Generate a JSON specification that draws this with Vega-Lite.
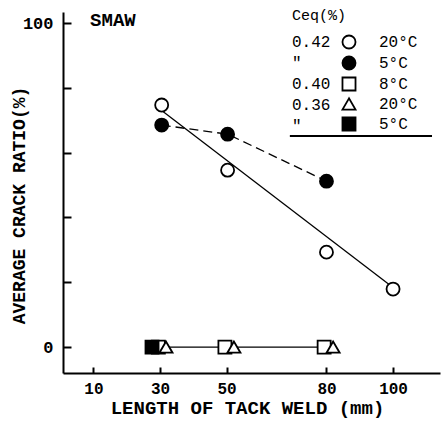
{
  "$schema": "https://vega.github.io/schema/vega-lite/v6.json",
  "width": 377,
  "height": 361,
  "autosize": "none",
  "padding": {"left": 63, "top": 12, "right": 4, "bottom": 48},
  "background": "white",
  "config": {"view": {"stroke": null}, "font": "Liberation Mono"},
  "datasets": {
    "points": [
      {"length": 30.5, "ratio": 74.7, "series": "0.42|20°C"},
      {"length": 50.3, "ratio": 54.6, "series": "0.42|20°C"},
      {"length": 80, "ratio": 29.3, "series": "0.42|20°C"},
      {"length": 100, "ratio": 17.9, "series": "0.42|20°C"},
      {"length": 30.5, "ratio": 68.5, "series": "0.42|5°C"},
      {"length": 50.3, "ratio": 65.7, "series": "0.42|5°C"},
      {"length": 80, "ratio": 51.2, "series": "0.42|5°C"},
      {"length": 29.5, "ratio": 0, "series": "0.40|8°C"},
      {"length": 49.5, "ratio": 0, "series": "0.40|8°C"},
      {"length": 79.3, "ratio": 0, "series": "0.40|8°C"},
      {"length": 27.6, "ratio": 0, "series": "0.36|5°C"},
      {"length": 31.8, "ratio": 0, "series": "0.36|20°C"},
      {"length": 52.2, "ratio": 0, "series": "0.36|20°C"},
      {"length": 82, "ratio": 0, "series": "0.36|20°C"}
    ],
    "fit": [
      {"length": 30, "ratio": 73.4},
      {"length": 100, "ratio": 18.4}
    ]
  },
  "layer": [
    {
      "data": {"name": "fit"},
      "mark": {"type": "line", "color": "black", "strokeWidth": 1.3},
      "encoding": {
        "x": {
          "field": "length", "type": "quantitative",
          "scale": {"domain": [0.86, 114.1], "nice": false, "zero": false},
          "axis": {
            "values": [10, 30, 50, 80, 100],
            "title": "LENGTH OF TACK WELD (mm)",
            "grid": false,
            "domainColor": "black", "domainWidth": 2,
            "tickColor": "black", "tickWidth": 2, "tickSize": -6,
            "labelPadding": 13, "labelFlush": false, "labelOverlap": false,
            "labelFont": "Liberation Mono", "labelFontSize": 16, "labelFontWeight": "bold", "labelColor": "black",
            "titleFont": "Liberation Mono", "titleFontSize": 19, "titleFontWeight": "bold", "titleColor": "black",
            "titleBaseline": "alphabetic", "titleX": 184, "titleY": 40
          }
        },
        "y": {
          "field": "ratio", "type": "quantitative",
          "scale": {"domain": [-8.0, 103.4], "nice": false, "zero": false},
          "axis": {
            "values": [0, 10, 20, 30, 40, 50, 60, 70, 80, 90, 100],
            "labelExpr": "datum.value % 50 === 0 ? datum.label : ''",
            "title": "AVERAGE CRACK RATIO(%)",
            "grid": false,
            "domainColor": "black", "domainWidth": 2,
            "tickColor": "black", "tickWidth": 2, "tickSize": -8,
            "labelPadding": 18, "labelAlign": "right", "labelOverlap": false,
            "labelFont": "Liberation Mono", "labelFontSize": 17, "labelFontWeight": "bold", "labelColor": "black",
            "titleFont": "Liberation Mono", "titleFontSize": 18, "titleFontWeight": "bold", "titleColor": "black",
            "titleBaseline": "alphabetic", "titleX": -39, "titleY": 193
          }
        }
      }
    },
    {
      "data": {"name": "points"},
      "transform": [{"filter": "datum.series == '0.42|5°C'"}],
      "mark": {"type": "line", "color": "black", "strokeWidth": 1.3, "strokeDash": [9, 5]},
      "encoding": {
        "x": {"field": "length", "type": "quantitative", "scale": {"domain": [0.86, 114.1], "nice": false, "zero": false}},
        "y": {"field": "ratio", "type": "quantitative", "scale": {"domain": [-8.0, 103.4], "nice": false, "zero": false}}
      }
    },
    {
      "data": {"name": "points"},
      "transform": [{"filter": "datum.series == '0.40|8°C'"}],
      "mark": {"type": "line", "color": "black", "strokeWidth": 1.3},
      "encoding": {
        "x": {"field": "length", "type": "quantitative", "scale": {"domain": [0.86, 114.1], "nice": false, "zero": false}},
        "y": {"field": "ratio", "type": "quantitative", "scale": {"domain": [-8.0, 103.4], "nice": false, "zero": false}}
      }
    },
    {
      "data": {"name": "points"},
      "mark": {"type": "point", "filled": true, "stroke": "black", "strokeWidth": 1.8, "size": 170},
      "encoding": {
        "x": {"field": "length", "type": "quantitative", "scale": {"domain": [0.86, 114.1], "nice": false, "zero": false}},
        "y": {"field": "ratio", "type": "quantitative", "scale": {"domain": [-8.0, 103.4], "nice": false, "zero": false}},
        "shape": {
          "field": "series", "type": "nominal",
          "scale": {
            "domain": ["0.42|20°C", "0.42|5°C", "0.40|8°C", "0.36|20°C", "0.36|5°C"],
            "range": ["circle", "circle", "square", "triangle-up", "square"]
          },
          "legend": {
            "orient": "top-right", "offset": 22, "padding": 0, "title": null,
            "symbolSize": 170, "symbolStrokeColor": "black", "symbolStrokeWidth": 1.8, "symbolOpacity": 1,
            "labelOffset": 22, "rowPadding": -1,
            "labelFont": "Liberation Mono", "labelFontSize": 16, "labelColor": "black",
            "labelExpr": "length(split(datum.label, '|')[1]) < 4 ? '\u00a0' + split(datum.label, '|')[1] : split(datum.label, '|')[1]",
            "encode": {"symbols": {"update": {"stroke": {"value": "black"}, "strokeWidth": {"value": 1.8}, "opacity": {"value": 1}}}}
          }
        },
        "fill": {
          "field": "series", "type": "nominal",
          "scale": {
            "domain": ["0.42|20°C", "0.42|5°C", "0.40|8°C", "0.36|20°C", "0.36|5°C"],
            "range": ["white", "black", "white", "white", "black"]
          },
          "legend": {
            "orient": "top-right", "offset": 22, "padding": 0, "title": null,
            "symbolSize": 170, "symbolStrokeColor": "black", "symbolStrokeWidth": 1.8, "symbolOpacity": 1,
            "labelOffset": 22, "rowPadding": -1,
            "labelFont": "Liberation Mono", "labelFontSize": 16, "labelColor": "black",
            "labelExpr": "length(split(datum.label, '|')[1]) < 4 ? '\u00a0' + split(datum.label, '|')[1] : split(datum.label, '|')[1]",
            "encode": {"symbols": {"update": {"stroke": {"value": "black"}, "strokeWidth": {"value": 1.8}, "opacity": {"value": 1}}}}
          }
        },
        "opacity": {
          "field": "series", "type": "nominal",
          "scale": {
            "type": "ordinal",
            "domain": ["0.42|20°C", "0.42|5°C", "0.40|8°C", "0.36|20°C", "0.36|5°C"],
            "range": [1, 1, 1, 1, 1]
          },
          "legend": {
            "orient": "none", "legendX": 229, "legendY": -4, "padding": 0,
            "title": "Ceq(%)",
            "titleFont": "Liberation Mono", "titleFontSize": 15, "titleFontWeight": "normal", "titleColor": "black",
            "titlePadding": 11,
            "symbolSize": 170, "symbolStrokeWidth": 1.8,
            "symbolFillColor": "transparent", "symbolStrokeColor": "transparent",
            "labelOffset": -16, "rowPadding": -1,
            "labelFont": "Liberation Mono", "labelFontSize": 16, "labelColor": "black",
            "labelExpr": "datum.label == '0.42|5°C' || datum.label == '0.36|5°C' ? '\"' : split(datum.label, '|')[0]",
            "encode": {"symbols": {"update": {"fill": {"value": "transparent"}, "stroke": {"value": "transparent"}, "opacity": {"value": 0}}}}
          }
        }
      }
    },
    {
      "data": {"values": [{}]},
      "mark": {"type": "rule", "color": "black", "strokeWidth": 2},
      "encoding": {
        "x": {"datum": 69, "type": "quantitative"},
        "x2": {"datum": 111.7},
        "y": {"datum": 65.1, "type": "quantitative"}
      }
    },
    {
      "data": {"values": [{}]},
      "mark": {"type": "text", "align": "left", "baseline": "middle", "font": "Liberation Mono", "fontSize": 19, "fontWeight": "bold", "color": "black"},
      "encoding": {
        "x": {"datum": 9, "type": "quantitative"},
        "y": {"datum": 101, "type": "quantitative"},
        "text": {"value": "SMAW"}
      }
    }
  ]
}
